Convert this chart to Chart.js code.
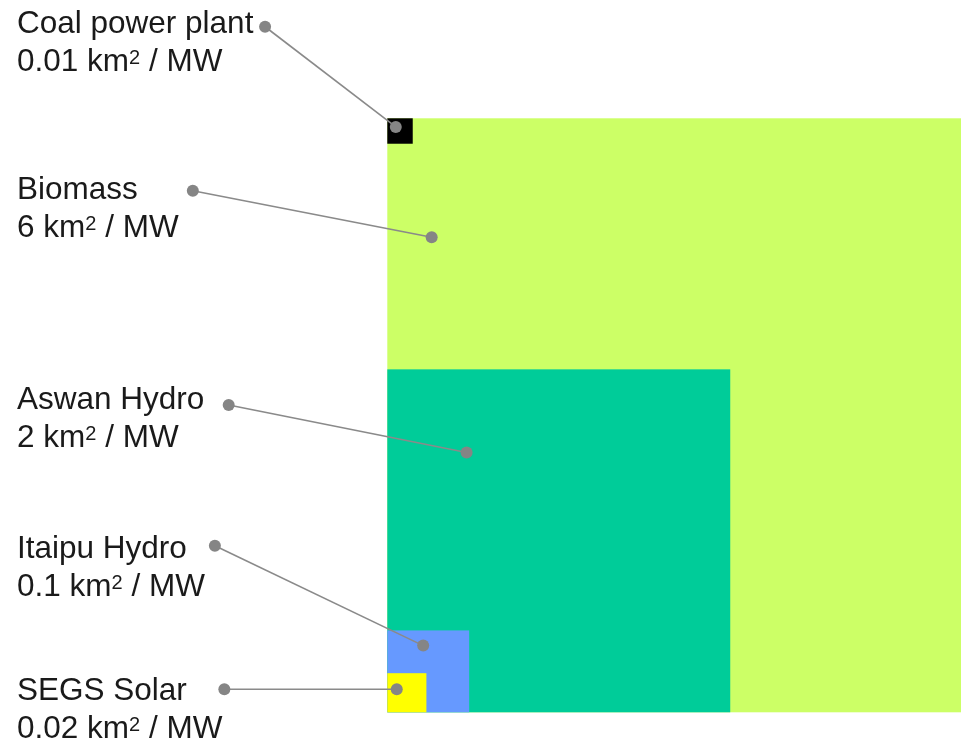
<!DOCTYPE html>
<html>
<head>
<meta charset="utf-8">
<script src="https://cdn.jsdelivr.net/npm/chart.js@4/dist/chart.umd.min.js"></script>
<style>
  html, body { margin: 0; padding: 0; background: #fff; overflow: hidden; }
  canvas { display: block; }
</style>
</head>
<body>
<canvas id="landChart" width="961" height="741"></canvas>
<script>
// land use per MW, as labelled
const plants = ['Coal power plant', 'Biomass', 'Aswan Hydro', 'Itaipu Hydro', 'SEGS Solar'];
const labelValues = ['0.01', '6', '2', '0.1', '0.02'];
const areas = [0.011, 6, 2, 0.114, 0.026];
const colors = ['#000000', '#ccff66', '#00cc99', '#6699ff', '#ffff00'];
// draw order: biggest first so the small ones sit on top
const drawOrder = [1, 0, 2, 3, 4];

// callout ends in chart units (sqrt km²): label side and inside the square
const calloutFrom = [[-0.504, 2.827], [-0.802, 2.151], [-0.654, 1.267], [-0.711, 0.687], [-0.672, 0.095]];
const calloutTo = [[0.035, 2.414], [0.183, 1.959], [0.327, 1.071], [0.148, 0.275], [0.039, 0.095]];

// layout
const W = 961, H = 741;
const origin = { x: 387.3, y: 712.3 };
const pxPerUnit = 242.5;
const textX = 17;
const textBaselines = [33, 199, 409, 558, 700];
const lineGap = 38;
const fontFamily = '"Liberation Sans", Arial, sans-serif';
const mainFont = `31.5px ${fontFamily}`;
const supFont = `20px ${fontFamily}`;
const supRaise = 7;

const side = (a) => Math.sqrt(a);
const biggest = side(Math.max(...areas));

const squaresPlugin = {
  id: 'squares',
  beforeDatasetsDraw(chart) {
    const { ctx, scales: { x, y } } = chart;
    ctx.save();
    drawOrder.forEach((i) => {
      const s = side(areas[i]);
      // coal sits in the top-left corner of biomass, the rest share the bottom-left corner
      const y0 = i === 0 ? biggest - s : 0;
      const left = x.getPixelForValue(0);
      const right = x.getPixelForValue(s);
      const top = y.getPixelForValue(y0 + s);
      const bottom = y.getPixelForValue(y0);
      ctx.fillStyle = colors[i];
      ctx.fillRect(left, top, right - left, bottom - top);
    });
    ctx.restore();
  },
};

function drawParts(ctx, parts, x, y) {
  parts.forEach(([text, sup]) => {
    ctx.font = sup ? supFont : mainFont;
    ctx.fillText(text, x, sup ? y - supRaise : y);
    x += ctx.measureText(text).width;
  });
}

const labelsPlugin = {
  id: 'labels',
  afterDraw(chart) {
    const { ctx } = chart;
    ctx.save();
    ctx.fillStyle = '#1a1a1a';
    ctx.textBaseline = 'alphabetic';
    plants.forEach((name, i) => {
      drawParts(ctx, [[name]], textX, textBaselines[i]);
      drawParts(ctx, [[`${labelValues[i]} km`], ['2', true], [' / MW']], textX, textBaselines[i] + lineGap);
    });
    ctx.restore();
  },
};

const callouts = plants.map((name, i) => ({
  type: 'line',
  label: name,
  data: [
    { x: calloutFrom[i][0], y: calloutFrom[i][1] },
    { x: calloutTo[i][0], y: calloutTo[i][1] },
  ],
  borderColor: '#8a8a8a',
  borderWidth: 1.6,
  pointRadius: 6,
  pointBackgroundColor: '#858585',
  pointBorderWidth: 0,
  showLine: true,
}));

new Chart(document.getElementById('landChart'), {
  type: 'scatter',
  data: { datasets: callouts },
  options: {
    responsive: false,
    animation: false,
    devicePixelRatio: 1,
    events: [],
    layout: { padding: 0, autoPadding: false },
    plugins: { legend: { display: false }, tooltip: { enabled: false } },
    scales: {
      x: { type: 'linear', display: false, min: -origin.x / pxPerUnit, max: (W - origin.x) / pxPerUnit },
      y: { type: 'linear', display: false, min: -(H - origin.y) / pxPerUnit, max: origin.y / pxPerUnit },
    },
  },
  plugins: [squaresPlugin, labelsPlugin],
});
</script>
</body>
</html>
